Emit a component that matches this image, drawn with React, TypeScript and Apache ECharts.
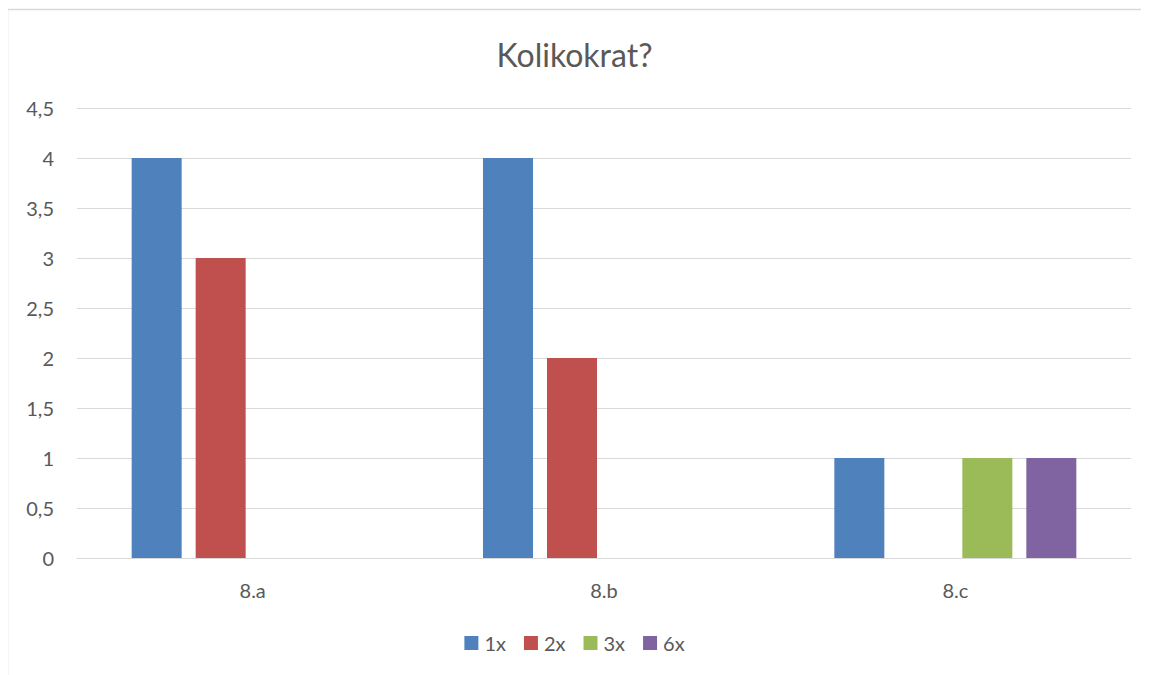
import React, { useEffect, useRef } from "react";
import * as echarts from "echarts";

const title = "Kolikokrat?";
const categories = ["8.a", "8.b", "8.c"];
const seriesNames = ["1x", "2x", "3x", "6x"];
const values1x = [4, 4, 1];
const values2x = [3, 2, 0];
const values3x = [0, 0, 1];
const values6x = [0, 0, 1];
const colors = ["#4F81BD", "#C0504D", "#9BBB59", "#8064A2"];

export default function App() {
  const ref = useRef<HTMLDivElement>(null);
  useEffect(() => {
    if (!ref.current) return;
    const chart = echarts.init(ref.current, null, { renderer: "svg" });
    const font = "Lato, 'Open Sans', sans-serif";
    const data = [values1x, values2x, values3x, values6x];
    chart.setOption({
      animation: false,
      backgroundColor: "#fff",
      textStyle: { fontFamily: font },
      title: {
        text: title,
        left: "center",
        top: 33,
        textStyle: { fontFamily: font, fontSize: 32, fontWeight: "normal", color: "#595959" },
      },
      graphic: [
        {
          type: "polyline",
          shape: { points: [[7.5, 675], [7.5, 9.5], [1149, 9.5]] },
          style: { stroke: "#d9d9d9", lineWidth: 1.5, fill: "none" },
          silent: true,
        },
      ],
      legend: {
        bottom: 17,
        left: "center",
        itemWidth: 14,
        itemHeight: 14,
        itemGap: 18,
        icon: "rect",
        data: seriesNames,
        textStyle: { fontFamily: font, fontSize: 20, color: "#595959", padding: [0, 0, 0, 1] },
      },
      grid: { left: 77, right: 18, top: 108, bottom: 117, containLabel: false },
      xAxis: {
        type: "category",
        data: categories,
        axisLine: { show: true, lineStyle: { color: "#d9d9d9" } },
        axisTick: { show: false },
        axisLabel: { fontFamily: font, fontSize: 20, color: "#595959", margin: 22 },
      },
      yAxis: {
        type: "value",
        min: 0,
        max: 4.5,
        interval: 0.5,
        axisLine: { show: false },
        axisTick: { show: false },
        splitLine: { lineStyle: { color: "#d9d9d9", width: 1 } },
        axisLabel: {
          fontFamily: font,
          fontSize: 20,
          color: "#595959",
          margin: 23,
          formatter: (v: number) => String(v).replace(".", ","),
        },
      },
      series: seriesNames.map((n, i) => ({
        name: n,
        type: "bar",
        data: data[i],
        barWidth: 50,
        barGap: "28%",
        itemStyle: { color: colors[i] },
      })),
    });
    return () => chart.dispose();
  }, []);
  return (
    <div
      ref={ref}
      style={{ width: 1149, height: 675, margin: "-8px 0 0 -8px" }}
    />
  );
}
